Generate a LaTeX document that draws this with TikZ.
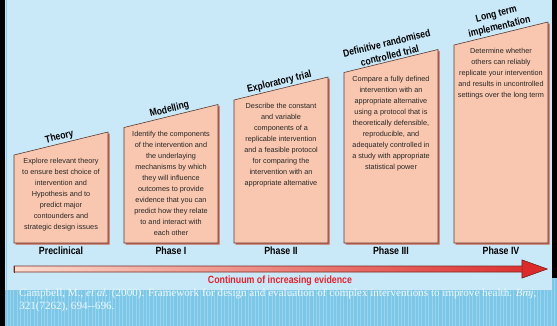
\documentclass[tikz,border=0pt]{standalone}
\usepackage{fontspec}
\setmainfont{Liberation Sans}
\newfontfamily\boxfont{Liberation Sans}
\newfontfamily\condfont[FakeStretch=0.84]{Liberation Sans}
\newfontfamily\citefont{Liberation Serif}
\definecolor{ybar}{HTML}{FFFF00}
\definecolor{panel}{HTML}{C9E9F9}
\definecolor{panelline}{HTML}{8ACFF0}
\definecolor{patfill}{HTML}{7CC6E7}
\definecolor{patline}{HTML}{98D4EE}
\definecolor{boxfill}{HTML}{F9C7AF}
\definecolor{boxline}{HTML}{5A3A34}
\definecolor{boxshadow}{HTML}{C9604C}
\definecolor{arrowL}{HTML}{FADCCD}
\definecolor{arrowR}{HTML}{DC2A2A}
\definecolor{arrowline}{HTML}{7A2A22}
\definecolor{redtext}{HTML}{E8202C}
\definecolor{citecol}{HTML}{EEF9FE}
\begin{document}
\begin{tikzpicture}[x=1pt,y=-1pt,
  stagebox/.style={fill=boxfill,draw=boxline,line width=0.6pt},
  stageshadow/.style={fill=boxshadow},
  bodytext/.style={anchor=north,inner sep=0pt,align=center,text=black!85,
    font=\boxfont\fontsize{7.3}{11}\selectfont},
  titletext/.style={anchor=south,inner sep=1.5pt,align=center,rotate=13.75,
    font=\condfont\bfseries\fontsize{10.2}{13}\selectfont},
  phasetext/.style={inner sep=0pt,font=\condfont\bfseries\fontsize{10.5}{12}\selectfont}]
\useasboundingbox (0,0) rectangle (557,326);
% backgrounds
\fill[patfill] (0,0) rectangle (557,326);
\begin{scope}
\clip (5,278) rectangle (557,326);
\draw[patline,line width=0.5pt,step=3.4] (0,270) grid (560,330);
\end{scope}
\fill[panel] (5,0) rectangle (552,290);
\draw[panelline,line width=1pt] (6,0) -- (6,290);
\fill[ybar] (0,0) rectangle (5,326);
\fill[ybar] (552,0) rectangle (557,278);
% stages
\foreach \i/\ttl/\body/\phase in {
 0/{Theory}/{Explore relevant theory\\to ensure best choice of\\intervention and\\Hypothesis and to\\predict major\\contounders and\\strategic design issues}/{Preclinical},
 1/{Modelling}/{Identify the components\\of the intervention and\\the underlaying\\mechanisms by which\\they will influence\\outcomes to provide\\evidence that you can\\predict how they relate\\to and interact with\\each other}/{Phase I},
 2/{Exploratory trial}/{Describe the constant\\and variable\\components of a\\replicable intervention\\and a feasible protocol\\for comparing the\\intervention with an\\appropriate alternative}/{Phase II},
 3/{Definitive randomised\\controlled trial}/{Compare a fully defined\\intervention with an\\appropriate alternative\\using a protocol that is\\theoretically defensible,\\reproducible, and\\adequately controlled in\\a study with appropriate\\statistical power}/{Phase III},
 4/{Long term\\implementation}/{Determine whether\\others can reliably\\replicate your intervention\\and results in uncontrolled\\settings over the long term}/{Phase IV}}{
  \pgfmathsetmacro{\l}{14+110*\i}
  \pgfmathsetmacro{\r}{\l+94}
  \pgfmathsetmacro{\c}{\l+47}
  \pgfmathsetmacro{\t}{155-27.5*\i}
  \pgfmathsetmacro{\tr}{\t-23}
  \pgfmathsetmacro{\tm}{\t-11.5}
  \fill[stageshadow] (\l+1.6,\t+1.6) -- (\r+1.6,\tr+1.6) -- (\r+1.6,244.6) -- (\l+1.6,244.6) -- cycle;
  \draw[stagebox] (\l,\t) -- (\r,\tr) -- (\r,243) -- (\l,243) -- cycle;
  \node[titletext] (title\i) at (\c,\tm) {\ttl};
  \node[bodytext] (body\i) at (\c,\t+3.2) {\body};
  \node[phasetext] (phase\i) at (\c,251) {\phase};
}
% continuum arrow
\coordinate (arrowstart) at (14,269);
\coordinate (arrowend) at (547,269);
\shadedraw[left color=arrowL,right color=arrowR,draw=arrowline,line width=0.6pt]
  (arrowstart) ++(0,-3) -- (522,266) -- (522,260) -- (arrowend) -- (522,278) -- (522,272) -- (14,272) -- cycle;
\filldraw[fill=arrowR,draw=arrowline,line width=0.5pt] (522,260) -- (arrowend) -- (522,278) -- cycle;
\draw[arrowline,line width=1pt] (14.5,265.5) -- (14.5,272.5);
\node[inner sep=0pt,text=redtext,font=\condfont\bfseries\fontsize{10.5}{12}\selectfont] (continuum) at (280,281) {Continuum of increasing evidence};
% citation
\node[anchor=west,inner sep=0pt,align=left,text=citecol,font=\citefont\fontsize{11.1}{13}\selectfont] (cite) at (19,300.5)
 {Campbell, M., \textit{et al.} (2000). Framework for design and evaluation of complex interventions to improve health. \textit{Bmj},\\321(7262), 694--696.};
\end{tikzpicture}
\end{document}
